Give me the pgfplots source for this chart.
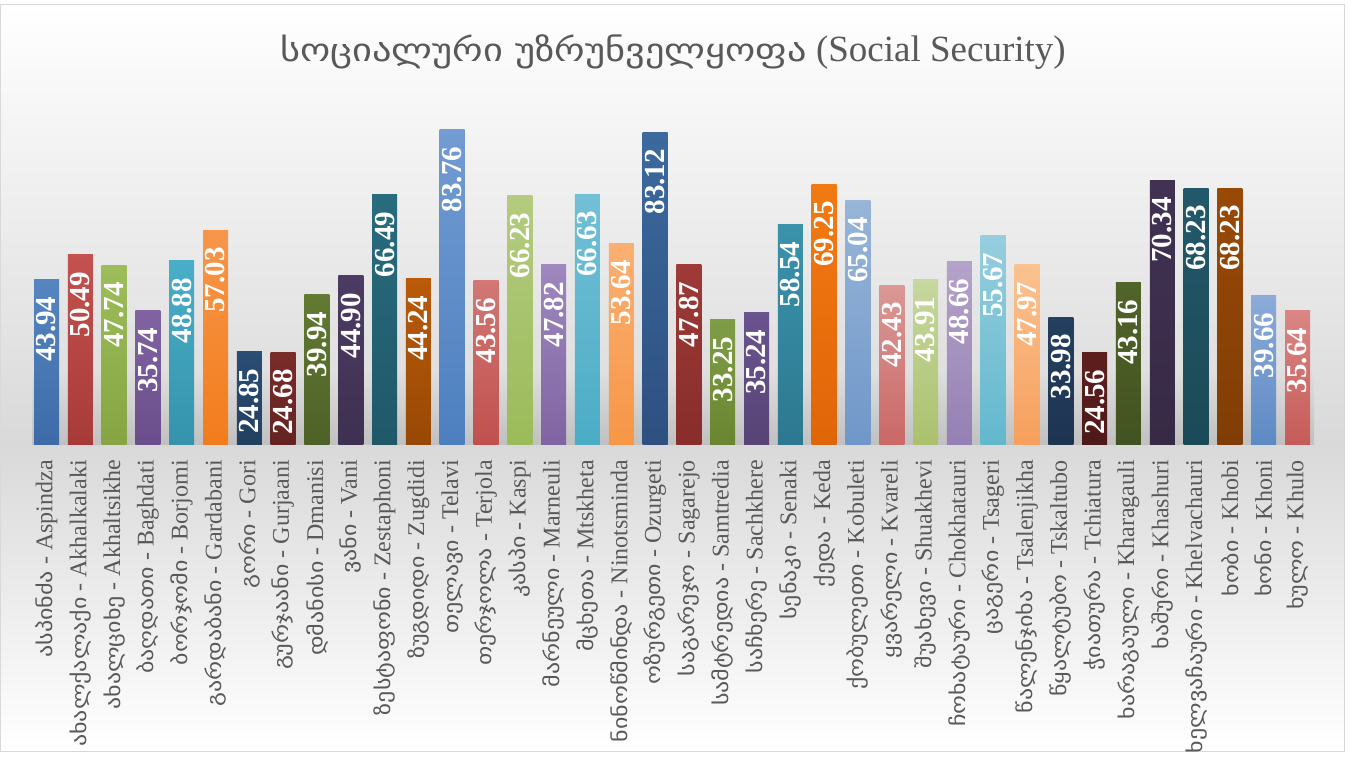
\documentclass[border=0pt]{standalone}
\usepackage{fontspec}
\setmainfont{Liberation Serif}
\newfontfamily\geo[FakeStretch=1.2]{DejaVu Sans}
\usepackage{pgfplots}
\pgfplotsset{compat=1.18}

\definecolor{labgray}{HTML}{595959}
\definecolor{frame}{HTML}{D9D9D9}
\definecolor{bgmid}{HTML}{D9D9D9}
\definecolor{shadow}{HTML}{C0C0C0}

% top / bottom colour of each bar
\definecolor{t0}{HTML}{5686C1}\definecolor{b0}{HTML}{3D6BA7}
\definecolor{t1}{HTML}{C4524F}\definecolor{b1}{HTML}{A73A37}
\definecolor{t2}{HTML}{9DBD5B}\definecolor{b2}{HTML}{86A442}
\definecolor{t3}{HTML}{8063A0}\definecolor{b3}{HTML}{6A4E8C}
\definecolor{t4}{HTML}{4AAEC8}\definecolor{b4}{HTML}{3593AC}
\definecolor{t5}{HTML}{F7964A}\definecolor{b5}{HTML}{F27C1C}
\definecolor{t6}{HTML}{2B4C74}\definecolor{b6}{HTML}{22405F}
\definecolor{t7}{HTML}{7A2C2A}\definecolor{b7}{HTML}{642322}
\definecolor{t8}{HTML}{627A32}\definecolor{b8}{HTML}{4E6127}
\definecolor{t9}{HTML}{4C3C64}\definecolor{b9}{HTML}{3E3050}
\definecolor{t10}{HTML}{286C7E}\definecolor{b10}{HTML}{205868}
\definecolor{t11}{HTML}{BA5A0A}\definecolor{b11}{HTML}{984805}
\definecolor{t12}{HTML}{729CD2}\definecolor{b12}{HTML}{4D7FBF}
\definecolor{t13}{HTML}{D27775}\definecolor{b13}{HTML}{C0504D}
\definecolor{t14}{HTML}{B4CB80}\definecolor{b14}{HTML}{9BBB59}
\definecolor{t15}{HTML}{9E88BE}\definecolor{b15}{HTML}{8064A2}
\definecolor{t16}{HTML}{72C0D5}\definecolor{b16}{HTML}{4BACC6}
\definecolor{t17}{HTML}{FAB072}\definecolor{b17}{HTML}{F79646}
\definecolor{t18}{HTML}{3C6A9E}\definecolor{b18}{HTML}{2D5080}
\definecolor{t19}{HTML}{9E3A37}\definecolor{b19}{HTML}{882D2A}
\definecolor{t20}{HTML}{7F9D47}\definecolor{b20}{HTML}{6A8530}
\definecolor{t21}{HTML}{6A5490}\definecolor{b21}{HTML}{574375}
\definecolor{t22}{HTML}{3A93AB}\definecolor{b22}{HTML}{2C7890}
\definecolor{t23}{HTML}{F27A12}\definecolor{b23}{HTML}{E06508}
\definecolor{t24}{HTML}{98B5D8}\definecolor{b24}{HTML}{6F97C9}
\definecolor{t25}{HTML}{DB9896}\definecolor{b25}{HTML}{CA6866}
\definecolor{t26}{HTML}{C6D89F}\definecolor{b26}{HTML}{ABC16C}
\definecolor{t27}{HTML}{B4A3C9}\definecolor{b27}{HTML}{9480B4}
\definecolor{t28}{HTML}{96CEDE}\definecolor{b28}{HTML}{62B8CE}
\definecolor{t29}{HTML}{FAC291}\definecolor{b29}{HTML}{F79F5C}
\definecolor{t30}{HTML}{253F60}\definecolor{b30}{HTML}{1E3451}
\definecolor{t31}{HTML}{5D1F1E}\definecolor{b31}{HTML}{4D1918}
\definecolor{t32}{HTML}{516429}\definecolor{b32}{HTML}{425221}
\definecolor{t33}{HTML}{413253}\definecolor{b33}{HTML}{372A45}
\definecolor{t34}{HTML}{22596A}\definecolor{b34}{HTML}{1B4A57}
\definecolor{t35}{HTML}{994906}\definecolor{b35}{HTML}{803D05}
\definecolor{t36}{HTML}{8CABD8}\definecolor{b36}{HTML}{5D8AC4}
\definecolor{t37}{HTML}{DA8684}\definecolor{b37}{HTML}{C55B58}

\newcommand{\g}[1]{{\geo\fontsize{20}{24}\selectfont #1}}
% one bar: index, value
\newcommand{\onebar}[2]{\addplot[ybar, bar width=25pt, bar shift=0pt, draw=none,
  top color=t#1, bottom color=b#1] coordinates {(#1,#2)};}

\begin{document}
\begin{tikzpicture}
\path[use as bounding box, fill=white] (0pt,0pt) rectangle (1354pt,762pt);
% chart area background
\shade[top color=white, bottom color=bgmid] (0.5pt,317pt) rectangle (1344pt,757.5pt);
\shade[top color=bgmid, bottom color=white] (0.5pt,10pt) rectangle (1344pt,317pt);
\shade[top color=bgmid!80!white, bottom color=shadow] (32pt,317pt) rectangle (1314pt,395pt);
\draw[frame, line width=1pt] (0.5pt,10pt) rectangle (1344pt,757.5pt);

\node[text=labgray, inner sep=0pt] at (673pt,710pt)
  {{\geo\fontsize{32}{40}\selectfont სოციალური უზრუნველყოფა}{\fontsize{37}{40}\selectfont\ (Social Security)}};

\begin{axis}[
    at={(29.6pt,317pt)}, anchor=south west,
    scale only axis, width=1284.8pt, height=338.9pt,
    xmin=-0.5, xmax=37.5, ymin=0, ymax=90,
    axis line style={draw=none},
    major tick length=0pt,
    ytick=\empty,
    xtick={0,...,37},
    xticklabels={
      {\g{ასპინძა} - Aspindza},
      {\g{ახალქალაქი} - Akhalkalaki},
      {\g{ახალციხე} - Akhaltsikhe},
      {\g{ბაღდათი} - Baghdati},
      {\g{ბორჯომი} - Borjomi},
      {\g{გარდაბანი} - Gardabani},
      {\g{გორი} - Gori},
      {\g{გურჯაანი} - Gurjaani},
      {\g{დმანისი} - Dmanisi},
      {\g{ვანი} - Vani},
      {\g{ზესტაფონი} - Zestaphoni},
      {\g{ზუგდიდი} - Zugdidi},
      {\g{თელავი} - Telavi},
      {\g{თერჯოლა} - Terjola},
      {\g{კასპი} - Kaspi},
      {\g{მარნეული} - Marneuli},
      {\g{მცხეთა} - Mtskheta},
      {\g{ნინოწმინდა} - Ninotsminda},
      {\g{ოზურგეთი} - Ozurgeti},
      {\g{საგარეჯო} - Sagarejo},
      {\g{სამტრედია} - Samtredia},
      {\g{საჩხერე} - Sachkhere},
      {\g{სენაკი} - Senaki},
      {\g{ქედა} - Keda},
      {\g{ქობულეთი} - Kobuleti},
      {\g{ყვარელი} - Kvareli},
      {\g{შუახევი} - Shuakhevi},
      {\g{ჩოხატაური} - Chokhatauri},
      {\g{ცაგერი} - Tsageri},
      {\g{წალენჯიხა} - Tsalenjikha},
      {\g{წყალტუბო} - Tskaltubo},
      {\g{ჭიათურა} - Tchiatura},
      {\g{ხარაგაული} - Kharagauli},
      {\g{ხაშური} - Khashuri},
      {\g{ხელვაჩაური} - Khelvachauri},
      {\g{ხობი} - Khobi},
      {\g{ხონი} - Khoni},
      {\g{ხულო} - Khulo}},
    xticklabel style={yshift=-15pt, rotate=90, anchor=east, inner sep=0pt,
      text=labgray, font=\fontsize{24}{26}\selectfont},
    nodes near coords={\pgfmathprintnumber[fixed, fixed zerofill, precision=2,
      assume math mode=true]{\pgfplotspointmeta}},
    every node near coord/.append style={yshift=-17pt, rotate=90, anchor=east,
      inner sep=0pt, text=white, font=\bfseries\fontsize{29}{30}\selectfont},
    clip=false,
]
\onebar{0}{43.94}
\onebar{1}{50.49}
\onebar{2}{47.74}
\onebar{3}{35.74}
\onebar{4}{48.88}
\onebar{5}{57.03}
\onebar{6}{24.85}
\onebar{7}{24.68}
\onebar{8}{39.94}
\onebar{9}{44.90}
\onebar{10}{66.49}
\onebar{11}{44.24}
\onebar{12}{83.76}
\onebar{13}{43.56}
\onebar{14}{66.23}
\onebar{15}{47.82}
\onebar{16}{66.63}
\onebar{17}{53.64}
\onebar{18}{83.12}
\onebar{19}{47.87}
\onebar{20}{33.25}
\onebar{21}{35.24}
\onebar{22}{58.54}
\onebar{23}{69.25}
\onebar{24}{65.04}
\onebar{25}{42.43}
\onebar{26}{43.91}
\onebar{27}{48.66}
\onebar{28}{55.67}
\onebar{29}{47.97}
\onebar{30}{33.98}
\onebar{31}{24.56}
\onebar{32}{43.16}
\onebar{33}{70.34}
\onebar{34}{68.23}
\onebar{35}{68.23}
\onebar{36}{39.66}
\onebar{37}{35.64}
\end{axis}
\end{tikzpicture}
\end{document}
